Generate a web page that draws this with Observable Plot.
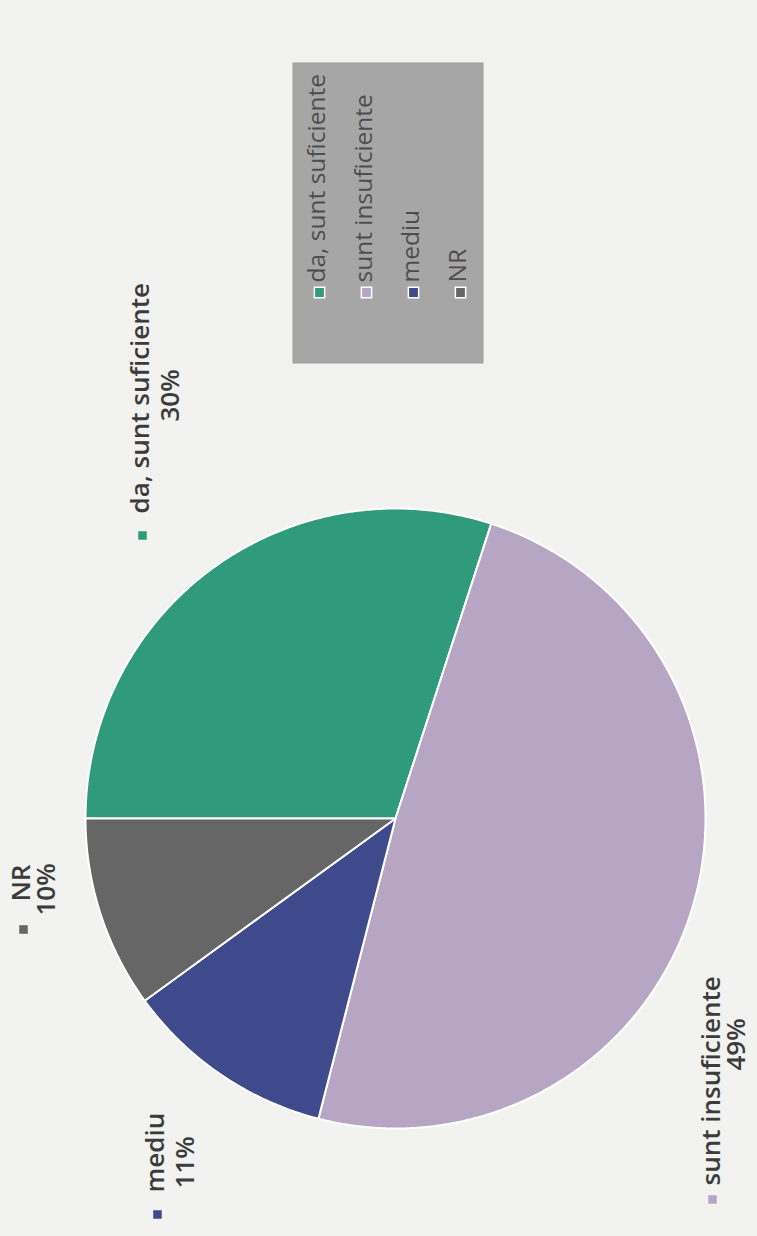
<!DOCTYPE html>
<html>
<head>
<meta charset="utf-8">
<script src="https://cdn.jsdelivr.net/npm/d3@7"></script>
<script src="https://cdn.jsdelivr.net/npm/@observablehq/plot@0.6"></script>
<style>
  html, body { margin: 0; padding: 0; background: #f2f2f0; width: 757px; height: 1236px; overflow: hidden; }
  #stage { position: absolute; left: 0; top: 0; width: 1236px; height: 757px;
           transform-origin: 0 0; transform: translate(0px, 1236px) rotate(-90deg); }
  #stage svg text { font-variant-ligatures: none; font-feature-settings: "liga" 0; }
</style>
</head>
<body>
<div id="stage"></div>
<script>
// ---- data ----
const categories = ["da, sunt suficiente", "sunt insuficiente", "mediu", "NR"];
const values = [30, 49, 11, 10];
const percentLabels = ["30%", "49%", "11%", "10%"];
const colors = ["#2f9a7c", "#b6a6c4", "#3e4a8b", "#666666"];

// ---- layout (unrotated pixel space, chart is rotated -90deg on the page) ----
const W = 1236, H = 757;
const CX = 417, CY = 395, R = 310;
const px = (u) => (u - CX) / R;
const py = (v) => (v - CY) / R;

// label layout: marker center, line-1 start/baseline, line-2 center/baseline
const labelMarker = [[700, 142], [36, 712], [21, 157], [306, 23]];
const labelLine1 = [[722, 148], [50, 719], [43, 163], [334, 29]];
const labelLine2 = [[840, 178], [191, 744], [73, 193], [346, 54]];

// legend layout
const legendBox = {x1: 873, x2: 1173, y1: 293, y2: 483};
const legendMarkerX = 943, legendTextX = 953, legendRow0 = 319, legendRowStep = 47;

// ---- slices ----
const arcs = d3.pie().sort(null)(values);
const slicePts = [];
arcs.forEach((a, i) => {
  const cat = categories[i];
  slicePts.push({cat, x: 0, y: 0});
  const n = Math.max(2, Math.ceil((a.endAngle - a.startAngle) / (Math.PI / 360)));
  for (let k = 0; k <= n; k++) {
    const t = a.startAngle + (a.endAngle - a.startAngle) * k / n;
    slicePts.push({cat, x: Math.sin(t), y: -Math.cos(t)});
  }
  slicePts.push({cat, x: 0, y: 0});
});

const labelFont = "'Open Sans', 'Noto Sans', sans-serif";

const chart = Plot.plot({
  width: W, height: H,
  margin: 0,
  x: {domain: [px(0), px(W)], range: [0, W], axis: null},
  y: {domain: [py(0), py(H)], range: [0, H], axis: null},
  color: {domain: categories, range: colors},
  style: {background: "transparent", fontFamily: labelFont, overflow: "visible"},
  marks: [
    Plot.line(slicePts, {x: "x", y: "y", z: "cat", fill: "cat", stroke: "white", strokeWidth: 2, strokeLinejoin: "round"}),
    // data labels
    Plot.dot(categories, {x: (d, i) => px(labelMarker[i][0]), y: (d, i) => py(labelMarker[i][1]), fill: (d) => d, symbol: "square", r: 4.8, stroke: "none"}),
    Plot.text(categories, {x: (d, i) => px(labelLine1[i][0]), y: (d, i) => py(labelLine1[i][1]), text: (d) => d, textAnchor: "start", lineAnchor: "bottom", fontSize: 26, fontWeight: 600, fill: "#3c3c3c"}),
    Plot.text(percentLabels, {x: (d, i) => px(labelLine2[i][0]), y: (d, i) => py(labelLine2[i][1]), text: (d) => d, textAnchor: "middle", lineAnchor: "bottom", fontSize: 26, fontWeight: 600, fill: "#3c3c3c"}),
    // legend
    Plot.rect([0], {x1: px(legendBox.x1), x2: px(legendBox.x2), y1: py(legendBox.y1), y2: py(legendBox.y2), fill: "#a6a6a6", stroke: "#9c9c9c"}),
    Plot.dot(categories, {x: px(legendMarkerX), y: (d, i) => py(legendRow0 + i * legendRowStep), fill: (d) => d, symbol: "square", r: 5.8, stroke: "white", strokeWidth: 1.5}),
    Plot.text(categories, {x: px(legendTextX), y: (d, i) => py(legendRow0 + 5 + i * legendRowStep), text: (d) => d, textAnchor: "start", lineAnchor: "bottom", fontSize: 24.5, fontWeight: 400, fill: "#4e4e4e"})
  ]
});
document.getElementById("stage").appendChild(chart);
</script>
</body>
</html>
